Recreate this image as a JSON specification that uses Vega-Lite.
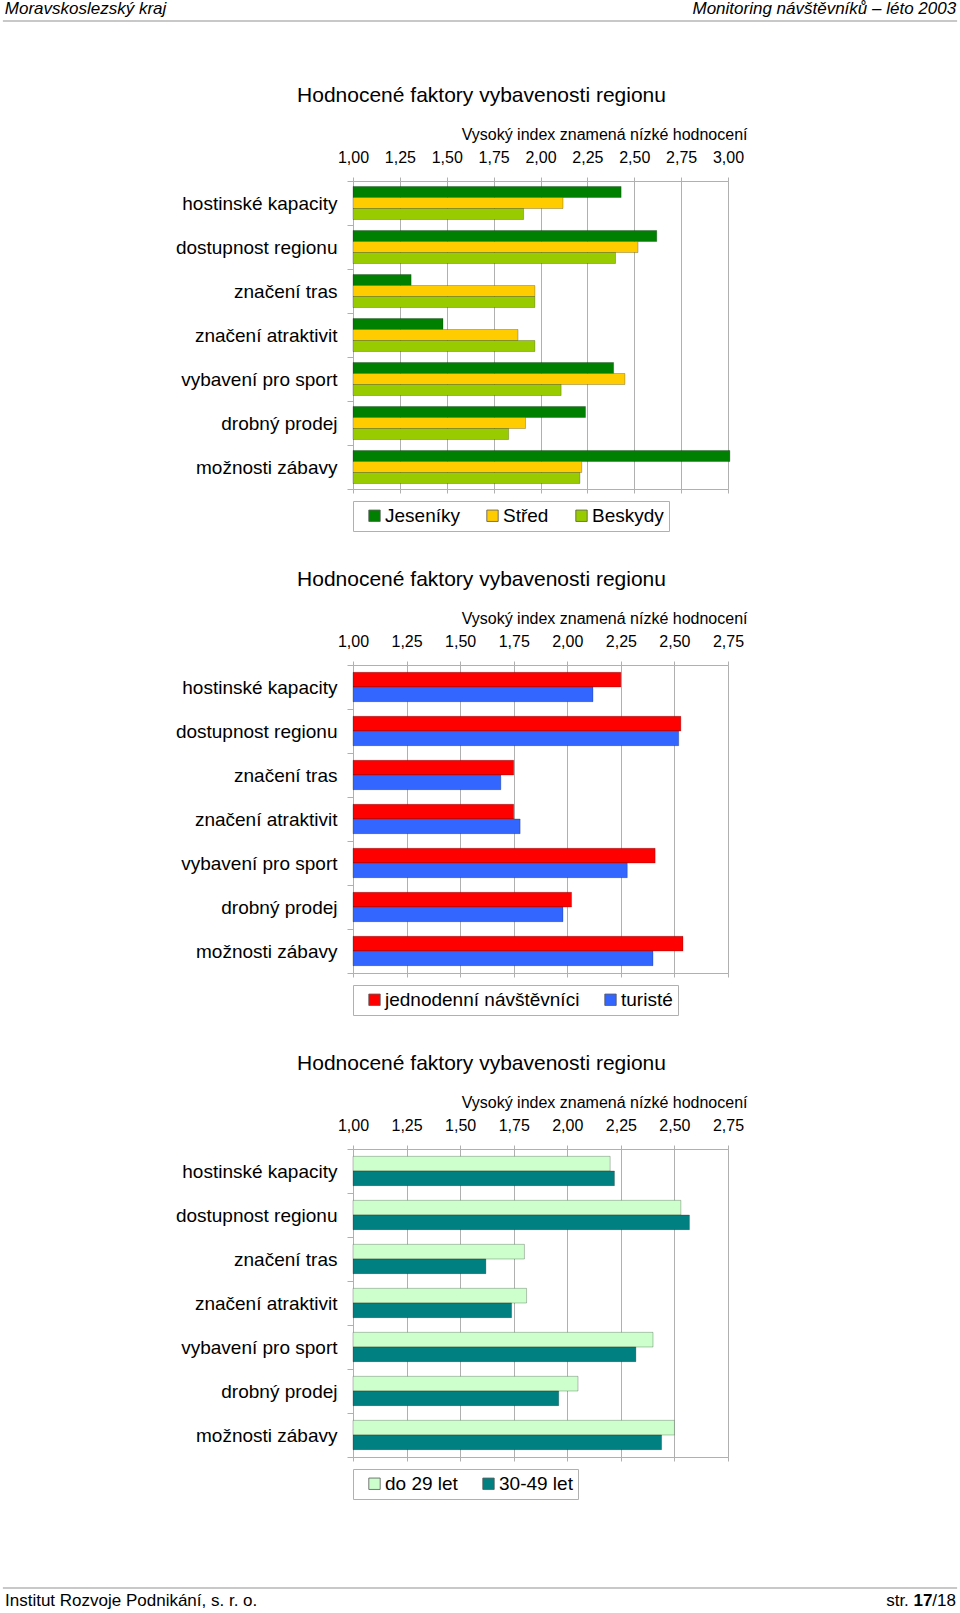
{
  "$schema": "https://vega.github.io/schema/vega-lite/v6.json",
  "padding": 0,
  "background": "white",
  "spacing": 62,
  "resolve": {"scale": {"color": "independent", "yOffset": "independent", "x": "independent", "y": "independent"}, "legend": {"color": "independent"}},
  "config": {
    "font": "Liberation Sans",
    "view": {"stroke": "#b0b0b0", "strokeWidth": 1},
    "axis": {"labelColor": "#000", "titleColor": "#000", "titleFontWeight": "normal", "gridColor": "#b0b0b0", "tickColor": "#b0b0b0", "domainColor": "#b0b0b0"},
    "title": {"fontSize": 21, "fontWeight": "normal", "color": "#000"},
    "text": {"color": "#000"}
  },
  "vconcat": [
    {
      "width": 960, "height": 20, "view": {"stroke": null},
      "layer": [
        {"data": {"values": [{"label": "Moravskoslezský kraj"}]},
         "mark": {"type": "text", "align": "left", "baseline": "middle", "fontSize": 17, "fontStyle": "italic"},
         "encoding": {"text": {"field": "label"},
           "x": {"datum": 0.005, "type": "quantitative", "scale": {"domain": [0, 1]}, "axis": null},
           "y": {"datum": 0.6, "type": "quantitative", "scale": {"domain": [0, 1]}, "axis": null}}},
        {"data": {"values": [{"label": "Monitoring návštěvníků – léto 2003"}]},
         "mark": {"type": "text", "align": "right", "baseline": "middle", "fontSize": 17, "fontStyle": "italic"},
         "encoding": {"text": {"field": "label"},
           "x": {"datum": 0.996, "type": "quantitative", "scale": {"domain": [0, 1]}, "axis": null},
           "y": {"datum": 0.6, "type": "quantitative", "scale": {"domain": [0, 1]}, "axis": null}}},
        {"data": {"values": [{"line": "header"}]},
         "mark": {"type": "rule", "color": "#c8c8c8", "strokeWidth": 2},
         "encoding": {
           "x": {"datum": 0.003, "type": "quantitative", "scale": {"domain": [0, 1]}, "axis": null},
           "x2": {"datum": 0.997},
           "y": {"datum": 0, "type": "quantitative", "scale": {"domain": [0, 1]}, "axis": null}}}
      ]
    },
    {
      "spacing": 87,
      "resolve": {"scale": {"color": "independent", "yOffset": "independent", "x": "independent", "y": "independent"}, "legend": {"color": "independent"}},
      "vconcat": [
        {
          "spacing": 36,
          "resolve": {"scale": {"color": "independent", "yOffset": "independent", "x": "independent", "y": "independent"}, "legend": {"color": "independent"}},
          "vconcat": [
            {
              "bounds": "flush",
              "spacing": 10,
              "resolve": {"scale": {"color": "independent", "yOffset": "independent", "x": "independent", "y": "independent"}, "legend": {"color": "independent"}},
              "hconcat": [
                {"width": 343, "height": 308, "view": {"stroke": null}, "data": {"values": []}, "mark": "point"},
                {
                  "width": 375, "height": 308,
                  "title": {"text": "Hodnocené faktory vybavenosti regionu", "anchor": "middle", "dx": -59, "offset": 20},
                  "data": {"values": [
                    {"factor": "hostinské kapacity", "group": "Jeseníky", "value": 2.43},
                    {"factor": "hostinské kapacity", "group": "Střed", "value": 2.12},
                    {"factor": "hostinské kapacity", "group": "Beskydy", "value": 1.91},
                    {"factor": "dostupnost regionu", "group": "Jeseníky", "value": 2.62},
                    {"factor": "dostupnost regionu", "group": "Střed", "value": 2.52},
                    {"factor": "dostupnost regionu", "group": "Beskydy", "value": 2.40},
                    {"factor": "značení tras", "group": "Jeseníky", "value": 1.31},
                    {"factor": "značení tras", "group": "Střed", "value": 1.97},
                    {"factor": "značení tras", "group": "Beskydy", "value": 1.97},
                    {"factor": "značení atraktivit", "group": "Jeseníky", "value": 1.48},
                    {"factor": "značení atraktivit", "group": "Střed", "value": 1.88},
                    {"factor": "značení atraktivit", "group": "Beskydy", "value": 1.97},
                    {"factor": "vybavení pro sport", "group": "Jeseníky", "value": 2.39},
                    {"factor": "vybavení pro sport", "group": "Střed", "value": 2.45},
                    {"factor": "vybavení pro sport", "group": "Beskydy", "value": 2.11},
                    {"factor": "drobný prodej", "group": "Jeseníky", "value": 2.24},
                    {"factor": "drobný prodej", "group": "Střed", "value": 1.92},
                    {"factor": "drobný prodej", "group": "Beskydy", "value": 1.83},
                    {"factor": "možnosti zábavy", "group": "Jeseníky", "value": 3.01},
                    {"factor": "možnosti zábavy", "group": "Střed", "value": 2.22},
                    {"factor": "možnosti zábavy", "group": "Beskydy", "value": 2.21}
                  ]},
                  "encoding": {
                    "y": {"field": "factor", "type": "nominal",
                      "sort": ["hostinské kapacity", "dostupnost regionu", "značení tras", "značení atraktivit", "vybavení pro sport", "drobný prodej", "možnosti zábavy"],
                      "scale": {"paddingInner": 0, "paddingOuter": 0},
                      "axis": {"title": null, "labelFontSize": 19, "labelPadding": 10, "tickBand": "extent", "tickSize": 6, "domain": false, "labelLimit": 300}},
                    "yOffset": {"field": "group", "type": "nominal", "sort": ["Jeseníky", "Střed", "Beskydy"], "scale": {"paddingInner": 0, "paddingOuter": 0.5}}
                  },
                  "layer": [
                    {"mark": {"type": "bar", "stroke": "#000", "strokeOpacity": 0.3, "strokeWidth": 0.8, "clip": false},
                     "encoding": {
                       "x": {"field": "value", "type": "quantitative", "stack": null,
                         "scale": {"domain": [1, 3], "nice": false, "zero": false},
                         "axis": {"orient": "top", "values": [1, 1.25, 1.5, 1.75, 2, 2.25, 2.5, 2.75, 3],
                           "labelExpr": "replace(format(datum.value, '.2f'), '.', ',')",
                           "grid": true, "domain": false, "ticks": true, "tickSize": 4, "labelFontSize": 16, "labelPadding": 12,
                           "labelFlush": false, "labelOverlap": false,
                           "title": "Vysoký index znamená nízké hodnocení", "titleFontSize": 16, "titleX": 394, "titleY": -42,
                           "titleAlign": "right", "titleBaseline": "alphabetic"}},
                       "x2": {"datum": 1},
                       "color": {"field": "group", "type": "nominal",
                         "scale": {"domain": ["Jeseníky", "Střed", "Beskydy"], "range": ["#008000", "#ffcc00", "#99cc00"]},
                         "legend": {"title": null, "orient": "bottom", "direction": "horizontal", "strokeColor": "#b0b0b0", "padding": 5,
                           "symbolType": "square", "symbolSize": 130, "symbolStrokeColor": "#555555", "symbolStrokeWidth": 0.8,
                           "labelFontSize": 19, "labelColor": "#000", "labelOffset": 1, "symbolOffset": 7, "columnPadding": 16, "offset": 7, "labelLimit": 300}}}},
                    {"mark": {"type": "bar"},
                     "encoding": {
                       "x": {"field": "value", "type": "quantitative", "stack": null,
                         "scale": {"domain": [1, 3], "nice": false, "zero": false},
                         "axis": {"orient": "bottom", "values": [1, 1.25, 1.5, 1.75, 2, 2.25, 2.5, 2.75, 3], "labels": false, "domain": false, "grid": false, "ticks": true, "tickSize": 4, "title": null}},
                       "x2": {"datum": 1},
                       "color": {"value": "transparent"}}}
                  ],
                  "resolve": {"axis": {"x": "independent"}}
                }
              ]
            },
            {
              "bounds": "flush",
              "spacing": 10,
              "resolve": {"scale": {"color": "independent", "yOffset": "independent", "x": "independent", "y": "independent"}, "legend": {"color": "independent"}},
              "hconcat": [
                {"width": 343, "height": 308, "view": {"stroke": null}, "data": {"values": []}, "mark": "point"},
                {
                  "width": 375, "height": 308,
                  "title": {"text": "Hodnocené faktory vybavenosti regionu", "anchor": "middle", "dx": -59, "offset": 20},
                  "data": {"values": [
                    {"factor": "hostinské kapacity", "group": "jednodenní návštěvníci", "value": 2.25},
                    {"factor": "hostinské kapacity", "group": "turisté", "value": 2.12},
                    {"factor": "dostupnost regionu", "group": "jednodenní návštěvníci", "value": 2.53},
                    {"factor": "dostupnost regionu", "group": "turisté", "value": 2.52},
                    {"factor": "značení tras", "group": "jednodenní návštěvníci", "value": 1.75},
                    {"factor": "značení tras", "group": "turisté", "value": 1.69},
                    {"factor": "značení atraktivit", "group": "jednodenní návštěvníci", "value": 1.75},
                    {"factor": "značení atraktivit", "group": "turisté", "value": 1.78},
                    {"factor": "vybavení pro sport", "group": "jednodenní návštěvníci", "value": 2.41},
                    {"factor": "vybavení pro sport", "group": "turisté", "value": 2.28},
                    {"factor": "drobný prodej", "group": "jednodenní návštěvníci", "value": 2.02},
                    {"factor": "drobný prodej", "group": "turisté", "value": 1.98},
                    {"factor": "možnosti zábavy", "group": "jednodenní návštěvníci", "value": 2.54},
                    {"factor": "možnosti zábavy", "group": "turisté", "value": 2.40}
                  ]},
                  "encoding": {
                    "y": {"field": "factor", "type": "nominal",
                      "sort": ["hostinské kapacity", "dostupnost regionu", "značení tras", "značení atraktivit", "vybavení pro sport", "drobný prodej", "možnosti zábavy"],
                      "scale": {"paddingInner": 0, "paddingOuter": 0},
                      "axis": {"title": null, "labelFontSize": 19, "labelPadding": 10, "tickBand": "extent", "tickSize": 6, "domain": false, "labelLimit": 300}},
                    "yOffset": {"field": "group", "type": "nominal", "sort": ["jednodenní návštěvníci", "turisté"], "scale": {"paddingInner": 0, "paddingOuter": 0.5}}
                  },
                  "layer": [
                    {"mark": {"type": "bar", "stroke": "#000", "strokeOpacity": 0.3, "strokeWidth": 0.8, "clip": false},
                     "encoding": {
                       "x": {"field": "value", "type": "quantitative", "stack": null,
                         "scale": {"domain": [1, 2.75], "nice": false, "zero": false},
                         "axis": {"orient": "top", "values": [1, 1.25, 1.5, 1.75, 2, 2.25, 2.5, 2.75],
                           "labelExpr": "replace(format(datum.value, '.2f'), '.', ',')",
                           "grid": true, "domain": false, "ticks": true, "tickSize": 4, "labelFontSize": 16, "labelPadding": 12,
                           "labelFlush": false, "labelOverlap": false,
                           "title": "Vysoký index znamená nízké hodnocení", "titleFontSize": 16, "titleX": 394, "titleY": -42,
                           "titleAlign": "right", "titleBaseline": "alphabetic"}},
                       "x2": {"datum": 1},
                       "color": {"field": "group", "type": "nominal",
                         "scale": {"domain": ["jednodenní návštěvníci", "turisté"], "range": ["#ff0000", "#3366ff"]},
                         "legend": {"title": null, "orient": "bottom", "direction": "horizontal", "strokeColor": "#b0b0b0", "padding": 5,
                           "symbolType": "square", "symbolSize": 130, "symbolStrokeColor": "#555555", "symbolStrokeWidth": 0.8,
                           "labelFontSize": 19, "labelColor": "#000", "labelOffset": 1, "symbolOffset": 7, "columnPadding": 14, "offset": 7, "labelLimit": 300}}}},
                    {"mark": {"type": "bar"},
                     "encoding": {
                       "x": {"field": "value", "type": "quantitative", "stack": null,
                         "scale": {"domain": [1, 2.75], "nice": false, "zero": false},
                         "axis": {"orient": "bottom", "values": [1, 1.25, 1.5, 1.75, 2, 2.25, 2.5, 2.75], "labels": false, "domain": false, "grid": false, "ticks": true, "tickSize": 4, "title": null}},
                       "x2": {"datum": 1},
                       "color": {"value": "transparent"}}}
                  ],
                  "resolve": {"axis": {"x": "independent"}}
                }
              ]
            },
            {
              "bounds": "flush",
              "spacing": 10,
              "resolve": {"scale": {"color": "independent", "yOffset": "independent", "x": "independent", "y": "independent"}, "legend": {"color": "independent"}},
              "hconcat": [
                {"width": 343, "height": 308, "view": {"stroke": null}, "data": {"values": []}, "mark": "point"},
                {
                  "width": 375, "height": 308,
                  "title": {"text": "Hodnocené faktory vybavenosti regionu", "anchor": "middle", "dx": -59, "offset": 20},
                  "data": {"values": [
                    {"factor": "hostinské kapacity", "group": "do 29 let", "value": 2.20},
                    {"factor": "hostinské kapacity", "group": "30-49 let", "value": 2.22},
                    {"factor": "dostupnost regionu", "group": "do 29 let", "value": 2.53},
                    {"factor": "dostupnost regionu", "group": "30-49 let", "value": 2.57},
                    {"factor": "značení tras", "group": "do 29 let", "value": 1.80},
                    {"factor": "značení tras", "group": "30-49 let", "value": 1.62},
                    {"factor": "značení atraktivit", "group": "do 29 let", "value": 1.81},
                    {"factor": "značení atraktivit", "group": "30-49 let", "value": 1.74},
                    {"factor": "vybavení pro sport", "group": "do 29 let", "value": 2.40},
                    {"factor": "vybavení pro sport", "group": "30-49 let", "value": 2.32},
                    {"factor": "drobný prodej", "group": "do 29 let", "value": 2.05},
                    {"factor": "drobný prodej", "group": "30-49 let", "value": 1.96},
                    {"factor": "možnosti zábavy", "group": "do 29 let", "value": 2.50},
                    {"factor": "možnosti zábavy", "group": "30-49 let", "value": 2.44}
                  ]},
                  "encoding": {
                    "y": {"field": "factor", "type": "nominal",
                      "sort": ["hostinské kapacity", "dostupnost regionu", "značení tras", "značení atraktivit", "vybavení pro sport", "drobný prodej", "možnosti zábavy"],
                      "scale": {"paddingInner": 0, "paddingOuter": 0},
                      "axis": {"title": null, "labelFontSize": 19, "labelPadding": 10, "tickBand": "extent", "tickSize": 6, "domain": false, "labelLimit": 300}},
                    "yOffset": {"field": "group", "type": "nominal", "sort": ["do 29 let", "30-49 let"], "scale": {"paddingInner": 0, "paddingOuter": 0.5}}
                  },
                  "layer": [
                    {"mark": {"type": "bar", "stroke": "#000", "strokeOpacity": 0.3, "strokeWidth": 0.8, "clip": false},
                     "encoding": {
                       "x": {"field": "value", "type": "quantitative", "stack": null,
                         "scale": {"domain": [1, 2.75], "nice": false, "zero": false},
                         "axis": {"orient": "top", "values": [1, 1.25, 1.5, 1.75, 2, 2.25, 2.5, 2.75],
                           "labelExpr": "replace(format(datum.value, '.2f'), '.', ',')",
                           "grid": true, "domain": false, "ticks": true, "tickSize": 4, "labelFontSize": 16, "labelPadding": 12,
                           "labelFlush": false, "labelOverlap": false,
                           "title": "Vysoký index znamená nízké hodnocení", "titleFontSize": 16, "titleX": 394, "titleY": -42,
                           "titleAlign": "right", "titleBaseline": "alphabetic"}},
                       "x2": {"datum": 1},
                       "color": {"field": "group", "type": "nominal",
                         "scale": {"domain": ["do 29 let", "30-49 let"], "range": ["#ccffcc", "#008080"]},
                         "legend": {"title": null, "orient": "bottom", "direction": "horizontal", "strokeColor": "#b0b0b0", "padding": 5,
                           "symbolType": "square", "symbolSize": 130, "symbolStrokeColor": "#555555", "symbolStrokeWidth": 0.8,
                           "labelFontSize": 19, "labelColor": "#000", "labelOffset": 1, "symbolOffset": 7, "columnPadding": 14, "offset": 7, "labelLimit": 300}}}},
                    {"mark": {"type": "bar"},
                     "encoding": {
                       "x": {"field": "value", "type": "quantitative", "stack": null,
                         "scale": {"domain": [1, 2.75], "nice": false, "zero": false},
                         "axis": {"orient": "bottom", "values": [1, 1.25, 1.5, 1.75, 2, 2.25, 2.5, 2.75], "labels": false, "domain": false, "grid": false, "ticks": true, "tickSize": 4, "title": null}},
                       "x2": {"datum": 1},
                       "color": {"value": "transparent"}}}
                  ],
                  "resolve": {"axis": {"x": "independent"}}
                }
              ]
            }
          ]
        },
        {
          "width": 960, "height": 20, "view": {"stroke": null},
          "layer": [
            {"data": {"values": [{"line": "footer"}]},
             "mark": {"type": "rule", "color": "#c8c8c8", "strokeWidth": 2},
             "encoding": {
               "x": {"datum": 0.003, "type": "quantitative", "scale": {"domain": [0, 1]}, "axis": null},
               "x2": {"datum": 0.997},
               "y": {"datum": 1, "type": "quantitative", "scale": {"domain": [0, 1]}, "axis": null}}},
            {"data": {"values": [{"label": "Institut Rozvoje Podnikání, s. r. o."}]},
             "mark": {"type": "text", "align": "left", "baseline": "middle", "fontSize": 17},
             "encoding": {"text": {"field": "label"},
               "x": {"datum": 0.0052, "type": "quantitative", "scale": {"domain": [0, 1]}, "axis": null},
               "y": {"datum": 0.35, "type": "quantitative", "scale": {"domain": [0, 1]}, "axis": null}}},
            {"data": {"values": [{"label": "str."}]},
             "mark": {"type": "text", "align": "right", "baseline": "middle", "fontSize": 17},
             "encoding": {"text": {"field": "label"},
               "x": {"datum": 0.9467, "type": "quantitative", "scale": {"domain": [0, 1]}, "axis": null},
               "y": {"datum": 0.35, "type": "quantitative", "scale": {"domain": [0, 1]}, "axis": null}}},
            {"data": {"values": [{"label": "17"}]},
             "mark": {"type": "text", "align": "right", "baseline": "middle", "fontSize": 17, "fontWeight": "bold"},
             "encoding": {"text": {"field": "label"},
               "x": {"datum": 0.97125, "type": "quantitative", "scale": {"domain": [0, 1]}, "axis": null},
               "y": {"datum": 0.35, "type": "quantitative", "scale": {"domain": [0, 1]}, "axis": null}}},
            {"data": {"values": [{"label": "/18"}]},
             "mark": {"type": "text", "align": "right", "baseline": "middle", "fontSize": 17},
             "encoding": {"text": {"field": "label"},
               "x": {"datum": 0.99583, "type": "quantitative", "scale": {"domain": [0, 1]}, "axis": null},
               "y": {"datum": 0.35, "type": "quantitative", "scale": {"domain": [0, 1]}, "axis": null}}}
          ]
        }
      ]
    }
  ]
}
